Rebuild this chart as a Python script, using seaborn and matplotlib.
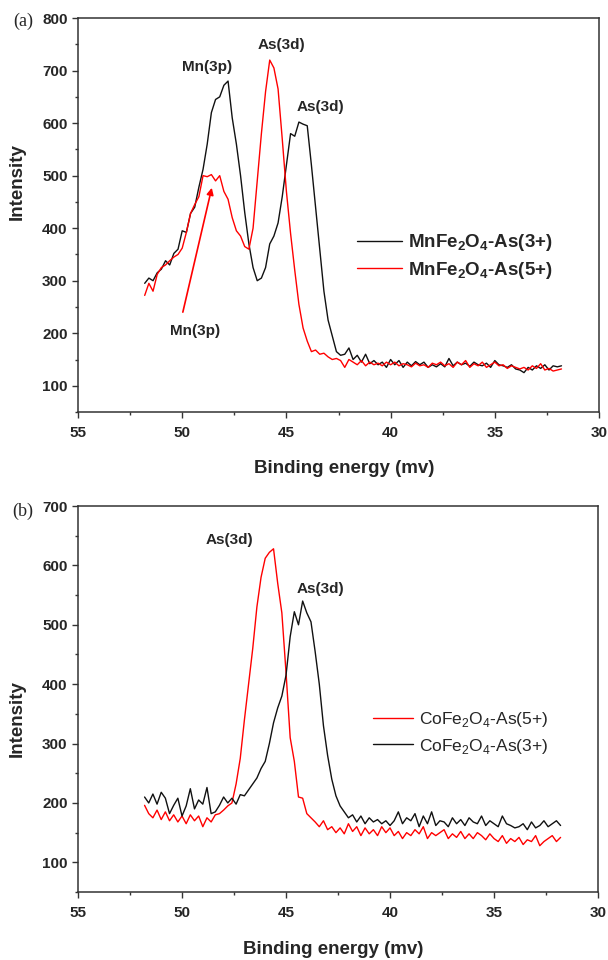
import matplotlib
matplotlib.use('Agg')
import matplotlib.pyplot as plt
import seaborn as sns
from matplotlib.ticker import MultipleLocator

# energy grid (eV, read every 0.2 from the picture)
energy = [51.8, 51.6, 51.4, 51.2, 51.0, 50.8, 50.6, 50.4, 50.2, 50.0,
          49.8, 49.6, 49.4, 49.2, 49.0, 48.8, 48.6, 48.4, 48.2, 48.0,
          47.8, 47.6, 47.4, 47.2, 47.0, 46.8, 46.6, 46.4, 46.2, 46.0,
          45.8, 45.6, 45.4, 45.2, 45.0, 44.8, 44.6, 44.4, 44.2, 44.0,
          43.8, 43.6, 43.4, 43.2, 43.0, 42.8, 42.6, 42.4, 42.2, 42.0,
          41.8, 41.6, 41.4, 41.2, 41.0, 40.8, 40.6, 40.4, 40.2, 40.0,
          39.8, 39.6, 39.4, 39.2, 39.0, 38.8, 38.6, 38.4, 38.2, 38.0,
          37.8, 37.6, 37.4, 37.2, 37.0, 36.8, 36.6, 36.4, 36.2, 36.0,
          35.8, 35.6, 35.4, 35.2, 35.0, 34.8, 34.6, 34.4, 34.2, 34.0,
          33.8, 33.6, 33.4, 33.2, 33.0, 32.8, 32.6, 32.4, 32.2, 32.0,
          31.8]

# (a) MnFe2O4
mn_as3 = [295, 305, 300, 315, 322, 338, 330, 352, 360, 395,
          392, 428, 440, 478, 512, 560, 620, 645, 650, 672,
          680, 610, 560, 500, 430, 370, 325, 300, 305, 325,
          370, 385, 410, 460, 520, 580, 575, 602, 598, 595,
          520, 440, 360, 280, 225, 195, 165, 158, 160, 172,
          150, 158, 145, 160, 142, 148, 140, 145, 135, 150,
          140, 148, 135, 145, 138, 146, 140, 145, 135, 140,
          136, 142, 136, 152, 138, 145, 140, 143, 137, 145,
          140, 138, 143, 135, 148, 140, 138, 135, 140, 132,
          130, 125, 135, 130, 138, 133, 140, 130, 138, 136,
          138]
mn_as5 = [272, 295, 280, 312, 325, 330, 338, 345, 350, 362,
          392, 428, 445, 460, 500, 498, 502, 490, 500, 470,
          455, 420, 395, 385, 365, 360, 400, 490, 580, 660,
          720, 705, 665, 570, 470, 390, 320, 255, 210, 185,
          165, 168, 160, 162, 155, 150, 152, 148, 135, 150,
          145, 140, 148, 138, 145, 140, 143, 138, 145, 140,
          145, 138, 142, 140, 136, 143, 138, 140, 135, 143,
          140, 145, 138, 142, 135, 145, 140, 148, 135, 142,
          138, 145, 135, 140, 145, 138, 140, 133, 138, 135,
          132, 135, 130, 138, 133, 142, 130, 133, 128, 130,
          132]

# (b) CoFe2O4
co_as3 = [210, 200, 215, 198, 218, 208, 182, 196, 208, 178,
          195, 224, 190, 205, 198, 226, 182, 185, 196, 210,
          200, 208, 198, 214, 212, 222, 232, 242, 258, 270,
          300, 335, 360, 380, 415, 480, 522, 500, 540, 520,
          505, 455, 400, 330, 280, 240, 212, 195, 185, 175,
          180, 168, 178, 165, 175, 168, 172, 165, 170, 162,
          170, 185, 165, 175, 170, 182, 160, 178, 165, 185,
          162, 170, 168, 160, 175, 165, 172, 162, 175, 168,
          165, 178, 162, 170, 165, 160, 178, 165, 162, 158,
          160, 165, 155, 168, 158, 162, 170, 160, 165, 170,
          162]
co_as5 = [196, 182, 175, 188, 172, 185, 170, 180, 168, 178,
          165, 180, 170, 178, 160, 175, 168, 180, 182, 188,
          195, 200, 232, 275, 340, 400, 460, 530, 580, 612,
          622, 628, 570, 520, 420, 310, 270, 210, 208, 182,
          175, 168, 160, 170, 155, 160, 150, 158, 148, 165,
          152, 160, 145, 158, 148, 155, 145, 160, 150, 158,
          145, 152, 140, 150, 145, 155, 148, 160, 140, 150,
          145, 150, 155, 140, 148, 142, 152, 140, 148, 140,
          150, 145, 138, 148, 140, 135, 145, 132, 140, 135,
          142, 130, 138, 135, 145, 128, 135, 140, 145, 135,
          142]

labels_a = [r'MnFe$_\mathbf{2}$O$_\mathbf{4}$-As(3+)', r'MnFe$_\mathbf{2}$O$_\mathbf{4}$-As(5+)']
labels_b = [r'CoFe$_\mathrm{2}$O$_\mathrm{4}$-As(5+)', r'CoFe$_\mathrm{2}$O$_\mathrm{4}$-As(3+)']

sns.set_style('ticks')
plt.rcParams['font.family'] = ['Liberation Sans', 'DejaVu Sans']
plt.rcParams['mathtext.fontset'] = 'custom'
plt.rcParams['mathtext.rm'] = 'Liberation Sans'
plt.rcParams['mathtext.bf'] = 'Liberation Sans:bold'

fig = plt.figure(figsize=(6.08, 9.6), dpi=100)
ax1 = fig.add_axes([0.1283, 0.5708, 0.8569, 0.4104])
ax2 = fig.add_axes([0.1283, 0.0708, 0.8553, 0.4021])

# panel a
sns.lineplot(x=energy, y=mn_as3, ax=ax1, color='#111111', lw=1.0, label=labels_a[0])
sns.lineplot(x=energy, y=mn_as5, ax=ax1, color='#ff0000', lw=1.0, label=labels_a[1])

# panel b
sns.lineplot(x=energy, y=co_as5, ax=ax2, color='#ff0000', lw=1.0, label=labels_b[0])
sns.lineplot(x=energy, y=co_as3, ax=ax2, color='#111111', lw=1.0, label=labels_b[1])

for ax, top in [(ax1, 800), (ax2, 700)]:
    ax.set_xlim(55, 30)
    ax.set_ylim(50, top)
    ax.xaxis.set_major_locator(MultipleLocator(5))
    ax.xaxis.set_minor_locator(MultipleLocator(2.5))
    ax.yaxis.set_major_locator(MultipleLocator(100))
    ax.yaxis.set_minor_locator(MultipleLocator(50))
    ax.set_yticks(range(100, top + 1, 100))
    ax.tick_params(which='major', direction='out', length=4, width=1, labelsize=11, color='#333333')
    ax.tick_params(which='minor', direction='out', length=2.5, width=1, color='#333333')
    ax.tick_params(axis='x', which='major', pad=6)
    for lab in ax.get_xticklabels() + ax.get_yticklabels():
        lab.set_fontweight('bold')
    for sp in ax.spines.values():
        sp.set_visible(True)
        sp.set_color('#333333')
        sp.set_linewidth(1.1)
    ax.set_xlabel('Binding energy (mv)', fontsize=13.5, fontweight='bold')
    ax.set_ylabel('Intensity', fontsize=13.5, fontweight='bold')

ax1.xaxis.set_label_coords(0.51, -0.122)
ax1.yaxis.set_label_coords(-0.1, 0.584)
ax2.xaxis.set_label_coords(0.49, -0.128)
ax2.yaxis.set_label_coords(-0.1, 0.45)

# annotations
ax1.text(48.8, 706, 'Mn(3p)', fontsize=11, fontweight='bold', ha='center', va='center')
ax1.text(45.24, 748, 'As(3d)', fontsize=11, fontweight='bold', ha='center', va='center')
ax1.text(43.36, 630, 'As(3d)', fontsize=11, fontweight='bold', ha='center', va='center')
ax1.text(49.4, 205, 'Mn(3p)', fontsize=11, fontweight='bold', ha='center', va='center')
ax1.annotate('', xy=(48.55, 482), xytext=(50.0, 235),
             arrowprops=dict(arrowstyle='-|>', color='#ff0000', lw=1.2, mutation_scale=10))

ax2.text(47.7, 643, 'As(3d)', fontsize=11, fontweight='bold', ha='center', va='center')
ax2.text(43.34, 561, 'As(3d)', fontsize=11, fontweight='bold', ha='center', va='center')

ax1.legend(loc='center left', bbox_to_anchor=(0.5355, 0.395), frameon=False,
           handlelength=2.4, handletextpad=0.32, borderpad=0, borderaxespad=0,
           labelspacing=0.35, prop={'size': 13.5, 'weight': 'bold'})
ax2.legend(loc='center left', bbox_to_anchor=(0.567, 0.413), frameon=False,
           handlelength=2.3, handletextpad=0.35, borderpad=0, borderaxespad=0,
           labelspacing=0.45, prop={'size': 12.5})

fig.text(0.038, 1 - 21 / 960, '(a)', family=['Liberation Serif', 'DejaVu Serif'], fontsize=13, ha='center', va='center')
fig.text(0.038, 1 - 511 / 960, '(b)', family=['Liberation Serif', 'DejaVu Serif'], fontsize=13, ha='center', va='center')

fig.savefig('out.png', dpi=100)
